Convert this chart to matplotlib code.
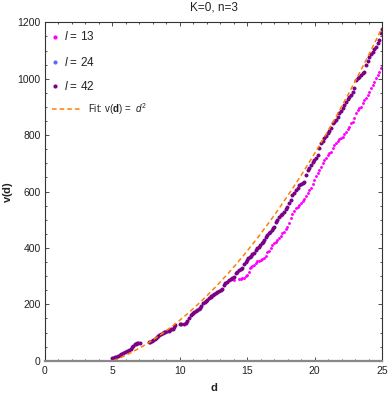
import matplotlib
matplotlib.use("Agg")
import matplotlib.pyplot as plt
import numpy as np
from matplotlib.ticker import MultipleLocator

plt.rcParams["font.family"] = ["Liberation Sans", "DejaVu Sans"]
plt.rcParams["mathtext.fontset"] = "custom"
plt.rcParams["mathtext.rm"] = "Liberation Sans"
plt.rcParams["mathtext.it"] = "Liberation Sans:italic"
plt.rcParams["mathtext.bf"] = "Liberation Sans:bold"

# Colors
C_L13 = "#ff00ff"
C_L24 = "#5a6cff"
C_L42 = "#800080"
C_FIT = "#ff8000"
C_TXT = "#222222"

# l = 42 series
d_l42 = [4.98, 5.08, 5.18, 5.3, 5.47, 5.57, 5.67, 5.8, 5.92, 6.1, 6.27, 6.37, 6.47,
         6.57, 6.66, 6.75, 6.84, 6.94, 7.03,
         7.7, 7.82, 7.95, 8.05, 8.15, 8.25, 8.33, 8.42, 8.5, 8.62, 8.74, 8.84, 8.94,
         9.06, 9.19, 9.29, 9.39, 9.48, 9.56, 9.64,
         10.0, 10.08,
         10.35, 10.45, 10.58, 10.73, 10.83, 10.92, 10.98, 11.1, 11.23, 11.32, 11.42,
         11.52, 11.62, 11.75, 11.85, 11.92, 12.04, 12.16, 12.29, 12.36, 12.45, 12.54,
         12.66, 12.78, 12.91, 13.03, 13.16, 13.28, 13.4, 13.53, 13.65, 13.78, 13.9,
         14.02, 14.15, 14.28, 14.4, 14.52, 14.65, 14.77, 14.89, 15.0, 15.09, 15.18,
         15.26, 15.38, 15.51, 15.64, 15.76, 15.88, 15.98, 16.08, 16.17, 16.25, 16.38,
         16.5, 16.62, 16.72, 16.83, 16.92, 17.0, 17.12, 17.25, 17.37, 17.5, 17.62,
         17.74, 17.87, 17.99, 18.12, 18.24, 18.36, 18.48, 18.61, 18.74, 18.86, 19.0,
         19.12, 19.23, 19.35, 19.48, 19.6, 19.73, 19.85, 19.97, 20.1, 20.22, 20.34,
         20.47, 20.59, 20.71, 20.84, 20.97, 21.09, 21.21, 21.34, 21.46, 21.58, 21.71,
         21.83, 21.96, 22.08, 22.2, 22.33, 22.45, 22.58, 22.7, 22.82, 22.94, 23.07,
         23.2, 23.32, 23.44, 23.57, 23.69, 23.81, 23.94, 24.06, 24.19, 24.31, 24.44,
         24.56, 24.68, 24.8, 24.93, 25.0]
v_l42 = [8.5, 10, 12, 14, 17, 20, 24, 27, 31, 34, 38, 43, 48,
         53, 58, 60, 62, 63, 64,
         65, 68, 71, 73, 76, 80, 83, 87, 91, 95, 99, 101, 103,
         105, 106, 108, 111, 114, 118, 127,
         129, 130,
         131, 132, 140, 150, 162, 166, 168, 172, 177, 180, 183,
         188, 194, 203, 208, 212, 216, 221, 225, 229, 233, 238,
         240, 243, 246, 250, 256, 268, 274, 280, 285, 290, 294,
         298, 310, 316, 322, 326, 330, 342, 351, 357, 363, 368,
         372, 377, 381, 393, 398, 404, 410, 416, 422, 428, 440,
         446, 452, 457, 463, 469, 475, 491, 500, 511, 517, 522,
         528, 537, 546, 558, 570, 588, 596, 605, 614, 623, 627,
         631, 635, 659, 676, 685, 694, 703, 712, 720, 729, 753,
         771, 780, 789, 797, 806, 815, 824, 842, 848, 855, 866,
         878, 885, 895, 906, 918, 928, 936, 942, 954, 966, 995,
         1001, 1007, 1013, 1019, 1025, 1049, 1064, 1078, 1087, 1096, 1104,
         1113, 1125, 1137, 1161, 1175]

# l = 24 series lies under the l = 42 points
d_l24 = list(d_l42)
v_l24 = list(v_l42)

# l = 13 series
d_l13 = [14.0, 14.4, 14.52, 14.65, 14.77, 14.9, 15.02, 15.14, 15.21, 15.3, 15.39,
         15.52, 15.64, 15.76, 15.88, 16.0, 16.13, 16.25, 16.38, 16.5, 16.62, 16.75,
         16.88, 17.0, 17.12, 17.25, 17.37, 17.49, 17.62, 17.74, 17.87, 17.99, 18.11,
         18.24, 18.36, 18.48, 18.61, 18.74, 18.86, 18.98, 19.11, 19.23, 19.35, 19.48,
         19.6, 19.73, 19.85, 19.97, 20.1, 20.22, 20.34, 20.47, 20.59, 20.71, 20.84,
         20.97, 21.09, 21.21, 21.34, 21.46, 21.58, 21.71, 21.83, 21.96, 22.08, 22.2,
         22.33, 22.45, 22.57, 22.7, 22.83, 22.95, 23.07, 23.2, 23.32, 23.44, 23.57,
         23.69, 23.81, 23.94, 24.06, 24.19, 24.31, 24.43, 24.56, 24.68, 24.8, 24.93,
         25.0]
v_l13 = [287, 289, 290, 292, 294, 299, 304, 316, 328, 331, 336,
         340, 345, 354, 355, 357, 362, 366, 371, 385, 388, 399,
         410, 416, 422, 428, 434, 441, 452, 458, 466, 475, 490,
         505, 520, 532, 540, 546, 552, 561, 566, 575, 583, 595,
         604, 614, 625, 640, 655, 665, 676, 688, 700, 712, 720,
         729, 735, 741, 753, 765, 771, 778, 785, 790, 794, 803,
         812, 821, 830, 842, 848, 862, 877, 888, 895, 901, 913,
         924, 933, 942, 954, 966, 977, 989, 1001, 1013, 1025, 1037,
         1043]

# fit: v = a (d - d0)^2 + b (d - d0)
FIT_D0 = 5.1
FIT_A = 2.006
FIT_B = 19.4

fig = plt.figure(figsize=(3.9, 3.95), dpi=100)
ax = fig.add_axes([0.1146, 0.0868, 0.8649, 0.8567])

ax.plot(d_l24, v_l24, "o", ms=2.7, color=C_L24, mec="none")
ax.plot(d_l13, v_l13, "o", ms=2.1, color=C_L13, mec="none")
ax.plot(d_l42, v_l42, "o", ms=2.7, color=C_L42, mec="none")

u = np.linspace(0, 25 - FIT_D0, 200)
ax.plot(u + FIT_D0, FIT_A * u**2 + FIT_B * u, color=C_FIT, lw=1.1,
        linestyle=(0, (3, 2)))

ax.set_xlim(0, 25)
ax.set_ylim(0, 1200)
ax.xaxis.set_major_locator(MultipleLocator(5))
ax.xaxis.set_minor_locator(MultipleLocator(1))
ax.yaxis.set_major_locator(MultipleLocator(200))
ax.yaxis.set_minor_locator(MultipleLocator(50))
ax.tick_params(which="both", direction="in", top=True, right=True,
               colors="#333333", labelcolor=C_TXT, labelsize=7.5, width=0.6)
ax.tick_params(which="major", length=3)
ax.tick_params(which="minor", length=1.6)
ax.tick_params(axis="x", pad=4)
ax.tick_params(axis="y", pad=3)
for s in ["left", "top", "right"]:
    ax.spines[s].set_color("#333333")
    ax.spines[s].set_linewidth(0.8)
ax.spines["bottom"].set_color("#888888")
ax.spines["bottom"].set_linewidth(1.6)

# Labels
fig.text(0.549, 1 - 8 / 395, "K=0, n=3", ha="center", va="center",
         fontsize=8.5, color=C_TXT)
fig.text(0.549, 1 - 388 / 395, "d", ha="center", va="center",
         fontsize=8, fontweight="bold", color=C_TXT)
fig.text(8 / 390, 1 - 192 / 395, r"v($\mathbf{d}$)", ha="center", va="center",
         rotation=90, fontsize=8, fontweight="bold", color=C_TXT)

# Legend, placed by hand in pixel positions of the figure
def fx(px):
    return px / 390

def fy(py):
    return 1 - py / 395

legend_rows = [(C_L13, r"$l$ = 13", 37), (C_L24, r"$l$ = 24", 62),
               (C_L42, r"$l$ = 42", 86)]
for col, lab, py in legend_rows:
    fig.lines.append(plt.Line2D([fx(55)], [fy(py)], ls="none", marker="o", ms=3,
                                color=col, mec="none", transform=fig.transFigure))
    fig.text(fx(64), fy(py), lab, ha="left", va="center", fontsize=8.5,
             color=C_TXT)
fig.lines.append(plt.Line2D([fx(52), fx(81)], [fy(109.5), fy(109.5)], color=C_FIT,
                            lw=1.1, linestyle=(0, (3, 2)),
                            transform=fig.transFigure))
fig.text(fx(87.5), fy(109.5), r"Fit: v($\mathbf{d}$) =  $\mathit{d}^2$", ha="left",
         va="center", fontsize=7, color=C_TXT)

fig.savefig("out.png", dpi=100)
